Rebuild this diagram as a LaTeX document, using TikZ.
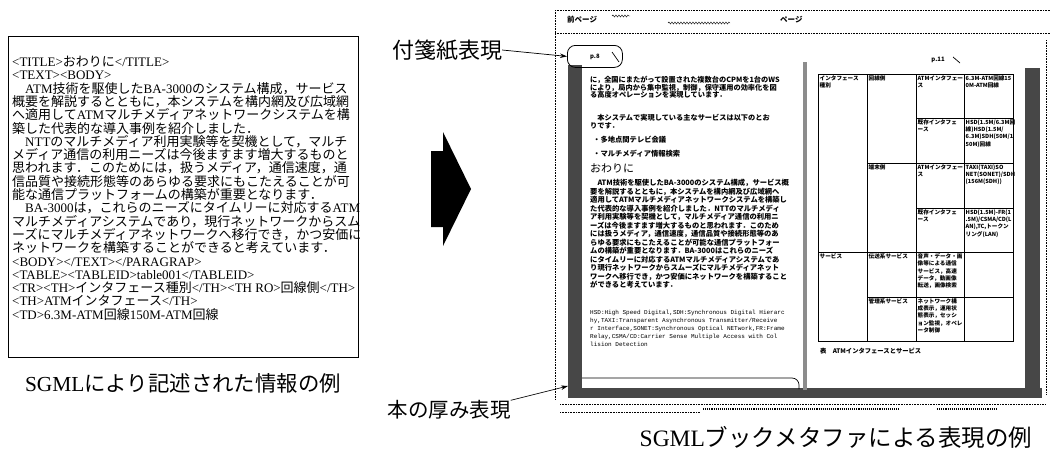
\documentclass[tikz,border=0pt]{standalone}
\usepackage{fontspec}
\setmainfont{Liberation Serif}
\newfontfamily\jafont{Noto Sans CJK JP}
\newfontfamily\monofont{Liberation Mono}
\usetikzlibrary{arrows.meta,decorations.pathmorphing}
\newcommand\latinsw{\rmfamily}
\newcommand\scrfont{\renewcommand\latinsw{\jafont\bfseries}\jafont\bfseries}
\XeTeXinterchartokenstate=1
\newXeTeXintercharclass\JaClass
\newcount\jcnt
\jcnt="3000
\loop\ifnum\jcnt<"A000 \XeTeXcharclass\jcnt=\JaClass\relax\advance\jcnt by 1\relax\repeat
\jcnt="FF00
\loop\ifnum\jcnt<"FFF0 \XeTeXcharclass\jcnt=\JaClass\relax\advance\jcnt by 1\relax\repeat
\XeTeXinterchartoks 0 \JaClass={\jafont}
\XeTeXinterchartoks 4095 \JaClass={\jafont}
\XeTeXinterchartoks \JaClass 0={\latinsw}
\XeTeXinterchartoks \JaClass 4095={\latinsw}
\begin{document}
\begin{tikzpicture}[x=1pt,y=-1pt,
  lbl/.style={font=\jafont\fontsize{22}{24}\selectfont, inner sep=0},
  captxt/.style={font=\rmfamily\fontsize{21}{24}\selectfont, inner sep=0},
  spine/.style={fill=black!72},
  ptxt/.style={anchor=north west, align=left, inner sep=0, font=\scrfont\fontsize{7.3}{8.5}\selectfont},
  cell/.style={anchor=north west, align=left, inner sep=1.5pt, font=\scrfont\fontsize{5.6}{7.2}\selectfont},
  dotframe/.style={densely dotted, line width=0.6pt},
  callout/.style={line width=0.7pt, -{Stealth[length=7pt,width=4.5pt]}},
  tline/.style={line width=0.7pt}]
\useasboundingbox (0,0) rectangle (1051,453);

% ---------- left: SGML source ----------
\node[draw, line width=0.9pt, minimum width=350, minimum height=321, anchor=north west, inner sep=0] (srcbox) at (8,36) {};
\node[anchor=north west, align=left, inner sep=0, font=\rmfamily\fontsize{13}{13.3}\selectfont] (src) at (12,56) {%
<TITLE>おわりに</TITLE>\\
<TEXT><BODY>\\
　ATM技術を駆使したBA-3000のシステム構成，サービス\\
概要を解説するとともに，本システムを構内網及び広域網\\
へ適用してATMマルチメディアネットワークシステムを構\\
築した代表的な導入事例を紹介しました．\\
　NTTのマルチメディア利用実験等を契機として，マルチ\\
メディア通信の利用ニーズは今後ますます増大するものと\\
思われます．このためには，扱うメディア，通信速度，通\\
信品質や接続形態等のあらゆる要求にもこたえることが可\\
能な通信プラットフォームの構築が重要となります．\\
　BA-3000は，これらのニーズにタイムリーに対応するATM\\
マルチメディアシステムであり，現行ネットワークからスム\\
ーズにマルチメディアネットワークへ移行でき，かつ安価に\\
ネットワークを構築することができると考えています．\\
<BODY></TEXT></PARAGRAP>\\
<TABLE><TABLEID>table001</TABLEID>\\
<TR><TH>インタフェース種別</TH><TH RO>回線側</TH>\\
<TH>ATMインタフェース</TH>\\
<TD>6.3M-ATM回線150M-ATM回線};
\node[captxt, font=\rmfamily\fontsize{21.4}{24}\selectfont] (cap1) at (183,383) {SGMLにより記述された情報の例};

% ---------- big arrow ----------
\fill (431,151) -- (443,151) -- (443,132) -- (471,189) -- (443,246) -- (443,227) -- (431,227) -- cycle;

% ---------- right: book metaphor screen ----------
\draw[dotframe] (555,10) -- (1051,10);
\draw[dotframe] (555,10) -- (555,400);
\draw[dotframe] (555,33) -- (1051,33);
\draw[dotframe] (1046,40) -- (1046,395);
\node[anchor=west, inner sep=0, font=\scrfont\fontsize{7.5}{8}\selectfont] (prev) at (567,20) {前ページ};
\node[anchor=west, inner sep=0, font=\scrfont\fontsize{7.5}{8}\selectfont] (next) at (780,20) {ページ};
\draw[decorate, decoration={snake, amplitude=1pt, segment length=3pt}] (668,23) -- (730,23);
\draw[decorate, decoration={snake, amplitude=1pt, segment length=3pt}] (612,16) -- (630,16);

% spines and page edges
\fill[spine] (568,65) rectangle (582,393);
\fill[spine] (568,388) rectangle (1042,398);
\fill[spine] (1025,68) rectangle (1040,397);
\fill[black!45] (803,62) rectangle (807,390);
\draw[line width=0.7pt, rounded corners=7pt] (582,378) -- (799,378) -- (799,389);
\coordinate (thick) at (568,386);

% sticky tab
\node[draw, line width=0.8pt, rounded corners=8pt, minimum width=55, minimum height=22, anchor=north west, inner sep=0,
      font=\scrfont\fontsize{6}{7}\selectfont] (tab) at (567,45) {p.8};
\draw[line width=0.7pt] (612,52) -- (619,62);
\node[inner sep=0, font=\scrfont\fontsize{6}{7}\selectfont] (p11) at (938,60) {p.11};
\draw[line width=0.7pt] (953,57) -- (960,63);

% left page text
\node[ptxt, font=\scrfont\fontsize{7.2}{7.6}\selectfont] (pa) at (590,76) {%
に，全国にまたがって設置された複数台のCPMを1台のWS\\
により，局内から集中監視，制御，保守運用の効率化を図\\
る高度オペレーションを実現しています．};
\node[ptxt, font=\scrfont\fontsize{7.2}{8}\selectfont] (pb) at (590,114) {%
　本システムで実現している主なサービスは以下のとお\\
りです．};
\node[ptxt] (pc) at (593,136) {・多地点間テレビ会議};
\node[ptxt] (pd) at (593,150) {・マルチメディア情報検索};
\node[ptxt, font=\jafont\fontsize{11}{12}\selectfont] (pe) at (590,164) {おわりに};
\node[ptxt] (pf) at (590,179) {%
　ATM技術を駆使したBA-3000のシステム構成，サービス概\\
要を解説するとともに，本システムを構内網及び広域網へ\\
適用してATMマルチメディアネットワークシステムを構築し\\
た代表的な導入事例を紹介しました．NTTのマルチメディ\\
ア利用実験等を契機として，マルチメディア通信の利用ニ\\
ーズは今後ますます増大するものと思われます．このため\\
には扱うメディア，通信速度，通信品質や接続形態等のあ\\
らゆる要求にもこたえることが可能な通信プラットフォー\\
ムの構築が重要となります．BA-3000はこれらのニーズ\\
にタイムリーに対応するATMマルチメディアシステムであ\\
り現行ネットワークからスムーズにマルチメディアネット\\
ワークへ移行でき，かつ安価にネットワークを構築すること\\
ができると考えています．};
\node[anchor=north west, align=left, inner sep=0, font=\monofont\fontsize{6}{8}\selectfont] (pg) at (590,310) {%
HSD:High Speed Digital,SDH:Synchronous Digital Hierarc\\
hy,TAXI:Transparent Asynchronous Transmitter/Receive\\
r Interface,SONET:Synchronous Optical NETwork,FR:Frame\\
Relay,CSMA/CD:Carrier Sense Multiple Access with Col\\
lision Detection};

% right page table
\draw[tline] (818,74) rectangle (1013,341);
\draw[tline] (867,74) -- (867,341);
\draw[tline] (916,74) -- (916,341);
\draw[tline] (964,74) -- (964,341);
\draw[tline] (818,252) -- (1013,252);
\draw[tline] (867,163) -- (1013,163);
\draw[tline] (867,297) -- (1013,297);
\draw[tline] (916,118) -- (1013,118);
\draw[tline] (916,208) -- (1013,208);
\node[cell] (c11) at (818,74) {インタフェース\\種別};
\node[cell] (c12) at (867,74) {回線側};
\node[cell] (c13) at (916,74) {ATMインタフェー\\ス};
\node[cell] (c14) at (964,74) {6.3M-ATM回線15\\0M-ATM回線};
\node[cell] (c23) at (916,118) {既存インタフェ\\ース};
\node[cell] (c24) at (964,118) {HSD(1.5M/6.3M回\\線)HSD(1.5M/\\6.3M)SDH(50M/1\\50M)回線};
\node[cell] (c32) at (867,163) {端末側};
\node[cell] (c33) at (916,163) {ATMインタフェー\\ス};
\node[cell] (c34) at (964,163) {TAXI(TAXI)SO\\NET(SONET)/SDH\\(156M(SDH))};
\node[cell] (c43) at (916,208) {既存インタフェ\\ース};
\node[cell] (c44) at (964,208) {HSD(1.5M)-FR(1\\.5M)/CSMA/CD(L\\AN),TC,トークン\\リング(LAN)};
\node[cell] (c51) at (818,252) {サービス};
\node[cell] (c52) at (867,252) {伝送系サービス};
\node[cell] (c53) at (916,252) {音声・データ・画\\像等による通信\\サービス，高速\\データ，動画像\\転送，画像検索};
\node[cell] (c62) at (867,297) {管理系サービス};
\node[cell] (c63) at (916,297) {ネットワーク構\\成表示，運用状\\態表示，セッシ\\ョン監視，オペレ\\ータ制御};
\node[anchor=west, inner sep=0, font=\scrfont\fontsize{6.3}{7}\selectfont] (tcap) at (820,351) {表　ATMインタフェースとサービス};

% status row
\draw[dotframe] (560,404) -- (1045,404);
\draw[dotframe] (560,412) -- (700,412);
\draw[densely dotted, line width=1.1pt] (703,409) -- (900,409);
\draw[densely dotted, line width=1.1pt] (937,409) -- (997,409);

% callouts
\node[lbl] (lab1) at (447,50) {付箋紙表現};
\draw[callout] (lab1.east) -- (tab.west);
\node[lbl, font=\jafont\fontsize{20.5}{24}\selectfont] (lab2) at (449,410) {本の厚み表現};
\draw[callout] (lab2.north east) -- (thick);

\node[captxt, font=\rmfamily\fontsize{23.5}{26}\selectfont] (cap2) at (836,437) {SGMLブックメタファによる表現の例};
\end{tikzpicture}
\end{document}
